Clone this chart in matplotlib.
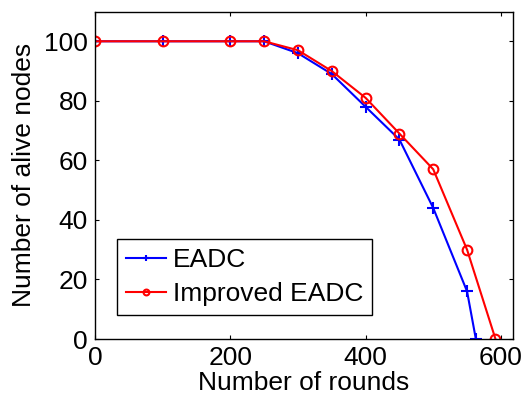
import matplotlib
matplotlib.use("Agg")
import matplotlib.pyplot as plt

# data
rounds_eadc = [0, 100, 200, 250, 300, 350, 400, 450, 500, 550, 563]
alive_eadc = [100, 100, 100, 100, 96, 89, 78, 67, 44, 16, 0]
rounds_imp = [0, 100, 200, 250, 300, 350, 400, 450, 500, 550, 592]
alive_imp = [100, 100, 100, 100, 97, 90, 81, 69, 57, 30, 0]
xticks = [0, 200, 400, 600]
yticks = [0, 20, 40, 60, 80, 100]

plt.rcParams['font.family'] = ['Liberation Sans', 'DejaVu Sans']
fs = 19

fig = plt.figure(figsize=(5.23, 4.01), dpi=100)
ax = fig.add_axes([0.1816, 0.1546, 0.7994, 0.8167])

ax.plot(rounds_eadc, alive_eadc, '-', color='blue', lw=1.5, marker='+',
        ms=8, mew=1.5, label='EADC')
ax.plot(rounds_imp, alive_imp, '-', color='red', lw=1.5, marker='o',
        ms=7, mew=1.5, mfc='none', label='Improved EADC')

ax.set_xlim(0, 618)
ax.set_ylim(0, 110)
ax.set_xticks(xticks)
ax.set_yticks(yticks)
ax.tick_params(direction='in', length=3, width=0.8, labelsize=fs,
               top=True, right=True, pad=5)
for s in ax.spines.values():
    s.set_linewidth(1.0)

ax.set_xlabel('Number of rounds', fontsize=fs, labelpad=1)
ax.set_ylabel('Number of alive nodes', fontsize=fs, labelpad=6)

leg = ax.legend(loc='lower left', bbox_to_anchor=(0.053, 0.073),
                borderaxespad=0, fontsize=fs, fancybox=False,
                edgecolor='black', framealpha=1, handlelength=1.5,
                handletextpad=0.25, labelspacing=0.36, borderpad=0.35,
                markerscale=0.6)
leg.get_frame().set_linewidth(1.0)

fig.savefig('out.png', dpi=100)
